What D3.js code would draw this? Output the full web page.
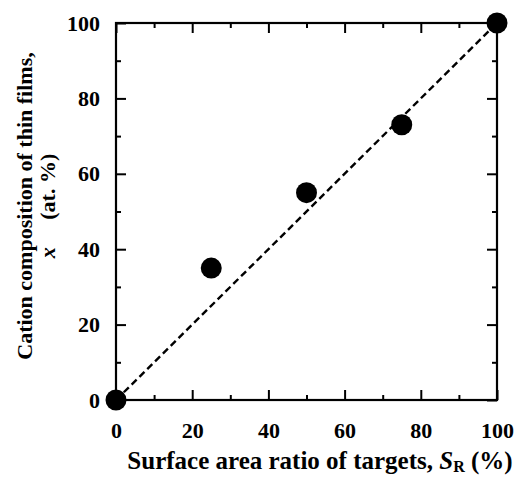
<!DOCTYPE html>
<html><head><meta charset="utf-8">
<script src="https://cdn.jsdelivr.net/npm/d3@7"></script>
<style>
body{margin:0;background:#fff;}
svg{display:block;}
text{font-family:"Liberation Serif","Times New Roman",serif;font-weight:bold;fill:#000;}
</style></head>
<body>
<script>
const xValues = [0, 25, 50, 75, 100];
const yValues = [0, 35, 55, 73, 100];
const lineX = [0, 100];
const lineY = [0, 100];
const majorTicks = [0, 20, 40, 60, 80, 100];
const minorTicks = [10, 30, 50, 70, 90];
const xTitle = "Surface area ratio of targets, ";
const yTitle1 = "Cation composition of thin films,";

const W = 521, H = 477;
const svg = d3.select("body").append("svg").attr("width", W).attr("height", H);
const x = d3.scaleLinear().domain([0, 100]).range([116, 497]);
const y = d3.scaleLinear().domain([0, 100]).range([400, 23]);

function styleAxis(g){
  g.attr("font-family", null).attr("font-size", null);
  g.select(".domain").remove();
  g.selectAll("line").attr("stroke","#000").attr("stroke-width",2);
  g.selectAll("text")
    .attr("font-family","Liberation Serif, Times New Roman, serif")
    .attr("font-weight","bold").attr("font-size","22px");
}
// bottom
svg.append("g").attr("transform","translate(0,400)")
  .call(d3.axisBottom(x).tickValues(majorTicks).tickSize(-10).tickPadding(22).tickFormat(d3.format("d")))
  .call(styleAxis);
svg.append("g").attr("transform","translate(0,400)")
  .call(d3.axisBottom(x).tickValues(minorTicks).tickSize(-5).tickFormat(""))
  .call(styleAxis);
// top
svg.append("g").attr("transform","translate(0,23)")
  .call(d3.axisTop(x).tickValues(majorTicks).tickSize(-10).tickFormat(""))
  .call(styleAxis);
svg.append("g").attr("transform","translate(0,23)")
  .call(d3.axisTop(x).tickValues(minorTicks).tickSize(-5).tickFormat(""))
  .call(styleAxis);
// left
svg.append("g").attr("transform","translate(116,0)")
  .call(d3.axisLeft(y).tickValues(majorTicks).tickSize(-10).tickPadding(16).tickFormat(d3.format("d")))
  .call(styleAxis);
svg.append("g").attr("transform","translate(116,0)")
  .call(d3.axisLeft(y).tickValues(minorTicks).tickSize(-5).tickFormat(""))
  .call(styleAxis);
// right
svg.append("g").attr("transform","translate(497,0)")
  .call(d3.axisRight(y).tickValues(majorTicks).tickSize(-10).tickFormat(""))
  .call(styleAxis);
svg.append("g").attr("transform","translate(497,0)")
  .call(d3.axisRight(y).tickValues(minorTicks).tickSize(-5).tickFormat(""))
  .call(styleAxis);

// frame
svg.append("rect").attr("x",x(0)).attr("y",y(100))
  .attr("width",x(100)-x(0)).attr("height",y(0)-y(100))
  .attr("fill","none").attr("stroke","#000").attr("stroke-width",2.2);

// dashed line
svg.append("path")
  .datum(lineX.map((d,i)=>[d,lineY[i]]))
  .attr("d", d3.line().x(d=>x(d[0])).y(d=>y(d[1])))
  .attr("fill","none").attr("stroke","#000").attr("stroke-width",2.4)
  .attr("stroke-dasharray","7,4");

// points
svg.selectAll("circle.pt").data(xValues.map((d,i)=>[d,yValues[i]])).enter()
  .append("circle").attr("class","pt")
  .attr("cx",d=>x(d[0])).attr("cy",d=>y(d[1])).attr("r",10.5).attr("fill","#000");

// x title
const xt = svg.append("text").attr("x",320).attr("y",469)
  .attr("text-anchor","middle").style("font-size","25px");
xt.append("tspan").text(xTitle);
xt.append("tspan").style("font-style","italic").text("S");
xt.append("tspan").attr("dy",3).style("font-size","16px").text("R");
xt.append("tspan").attr("dy",-3).text(" (%)");

// y title
svg.append("text").attr("transform","translate(32,206) rotate(-90)")
  .attr("text-anchor","middle").style("font-size","22px").text(yTitle1);
const yt2 = svg.append("text").attr("transform","translate(55,206) rotate(-90)")
  .attr("text-anchor","middle").style("font-size","22px");
yt2.append("tspan").style("font-style","italic").text("x");
yt2.append("tspan").text("\u00a0\u00a0\u00a0\u00a0\u00a0(at. %)");
</script>
</body></html>
